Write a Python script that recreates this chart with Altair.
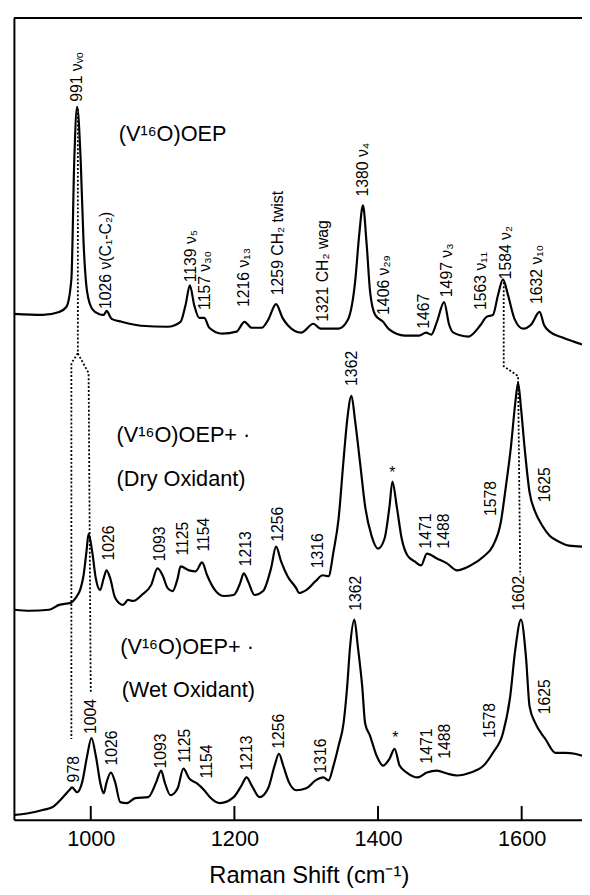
import altair as alt
import pandas as pd

# ---- spectra: wavenumber (cm-1) and relative intensity (stacked offsets) ----
top_x = [893, 933, 956, 966, 973, 977, 981, 986, 990, 995, 1002, 1011, 1018, 1022, 1029, 1043, 1070, 1107, 1125, 1132,
         1138, 1144, 1151, 1158, 1165, 1183, 1203, 1214, 1224, 1238, 1247, 1258, 1267, 1275, 1293, 1310, 1320, 1345, 1358, 1368,
         1374, 1379, 1384, 1389, 1396, 1407, 1416, 1437, 1457, 1467, 1474, 1482, 1492, 1499, 1505, 1526, 1543, 1551, 1560, 1567,
         1574, 1581, 1590, 1602, 1613, 1625, 1631, 1639, 1657, 1684]
top_y = [513, 512, 515, 520, 548, 668, 723, 668, 585, 535, 518, 513, 512, 516, 508, 505, 501, 500, 505, 522,
         542, 522, 509, 509, 499, 493, 495, 505, 499, 499, 507, 523, 509, 501, 494, 503, 498, 498, 507, 545,
         595, 623, 585, 535, 512, 505, 497, 491, 491, 494, 492, 505, 525, 502, 494, 490, 502, 510, 512, 532,
         548, 532, 508, 498, 502, 515, 502, 495, 489, 482]

dry_x = [894, 915, 942, 956, 972, 979, 986, 990, 994, 997, 1002, 1007, 1013, 1018, 1022, 1027, 1034, 1045, 1052, 1059,
         1071, 1084, 1093, 1100, 1107, 1114, 1121, 1125, 1137, 1146, 1155, 1162, 1171, 1185, 1199, 1208, 1213, 1219, 1228, 1240,
         1251, 1258, 1265, 1274, 1286, 1290, 1300, 1313, 1323, 1331, 1338, 1345, 1352, 1357, 1363, 1368, 1375, 1382, 1391, 1400,
         1409, 1416, 1420, 1426, 1433, 1441, 1451, 1460, 1468, 1482, 1496, 1510, 1529, 1547, 1560, 1571, 1578, 1585, 1591, 1595,
         1599, 1604, 1611, 1619, 1629, 1639, 1652, 1666, 1684]
dry_y = [213, 212, 213, 218, 220, 225, 235, 248, 272, 290, 272, 245, 233, 245, 253, 245, 225, 218, 223, 222,
         228, 238, 255, 248, 235, 232, 245, 257, 253, 252, 261, 248, 235, 227, 228, 240, 250, 242, 228, 232,
         255, 277, 262, 247, 235, 230, 233, 242, 248, 247, 272, 305, 365, 405, 430, 405, 362, 318, 288, 275,
         285, 318, 343, 318, 285, 268, 262, 258, 270, 265, 260, 253, 258, 267, 278, 302, 338, 378, 422, 443,
         418, 378, 332, 312, 298, 288, 282, 278, 277]

wet_x = [894, 915, 933, 947, 960, 970, 974, 981, 988, 995, 1001, 1007, 1014, 1018, 1022, 1028, 1034, 1041, 1050, 1062,
         1080, 1091, 1098, 1103, 1111, 1121, 1129, 1137, 1148, 1158, 1166, 1180, 1199, 1210, 1217, 1224, 1235, 1247, 1256, 1262,
         1268, 1276, 1286, 1300, 1313, 1324, 1331, 1338, 1345, 1352, 1357, 1361, 1367, 1372, 1378, 1382, 1389, 1398, 1407, 1416,
         1423, 1430, 1440, 1455, 1468, 1482, 1496, 1510, 1529, 1547, 1560, 1574, 1584, 1591, 1599, 1606, 1611, 1619, 1633, 1647,
         1661, 1674, 1684]
wet_y = [5, 7, 10, 13, 22, 30, 33, 28, 38, 65, 83, 65, 35, 27, 38, 48, 38, 18, 17, 22,
         23, 38, 50, 38, 25, 32, 52, 42, 37, 30, 23, 17, 23, 35, 43, 35, 23, 32, 55, 67,
         55, 38, 30, 32, 40, 43, 40, 55, 75, 98, 135, 175, 203, 175, 135, 98, 85, 65, 55, 62,
         72, 55, 48, 43, 48, 50, 47, 45, 48, 55, 68, 88, 125, 172, 203, 165, 115, 98, 82, 68,
         68, 67, 65]

# ---- dotted correlation lines ----
dot_a_x = [982, 982, 973, 973]
dot_a_y = [721, 473, 463, 82]
dot_b_x = [982, 997, 1000]
dot_b_y = [473, 453, 128]
dot_c_x = [1575, 1575, 1595, 1598]
dot_c_y = [545, 460, 450, 248]

# ---- peak annotations (text, wavenumber position, intensity anchor) ----
top_labels = ["991 νᵥₒ", "1026 ν(C₁-C₂)", "1139 ν₅", "1157 ν₃₀", "1216 ν₁₃", "1259 CH₂ twist", "1321 CH₂ wag",
              "1380 ν₄", "1406 ν₂₉", "1467", "1497 ν₃", "1563 ν₁₁", "1584 ν₂", "1632 ν₁₀"]
top_label_x = [981, 1021, 1139, 1159, 1214, 1261, 1323, 1379, 1409, 1464, 1496, 1544, 1578, 1622]
top_label_y = [728, 518, 545, 517, 520, 532, 505, 632, 512, 498, 530, 517, 548, 523]

dry_labels = ["1026", "1093", "1125", "1154", "1213", "1256", "1316", "1362", "1471", "1488", "1578", "1625"]
dry_label_x = [1025, 1096, 1128, 1158, 1216, 1261, 1317, 1364, 1467, 1492, 1558, 1632]
dry_label_y = [263, 262, 268, 272, 257, 282, 255, 440, 275, 275, 308, 322]

wet_labels = ["978", "1004", "1026", "1093", "1125", "1154", "1213", "1256", "1316", "1362", "1471", "1488",
              "1578", "1602", "1625"]
wet_label_x = [977, 1000, 1029, 1098, 1131, 1162, 1217, 1262, 1320, 1370, 1468, 1494, 1556, 1597, 1632]
wet_label_y = [38, 87, 55, 52, 58, 42, 50, 72, 47, 212, 57, 62, 83, 212, 107]

star_x = [1420, 1424]
star_y = [352, 83]

names = ["(V¹⁶O)OEP", "(V¹⁶O)OEP+ ·", "(Dry Oxidant)", "(V¹⁶O)OEP+ ·", "(Wet Oxidant)"]
name_x = [1039, 1036, 1036, 1041, 1043]
name_y = [695, 390, 346, 175, 132]

ticks = [1000, 1200, 1400, 1600]

# ---- tables ----
spec_rows = []
for name, xs, ys in [("top", top_x, top_y), ("dry", dry_x, dry_y), ("wet", wet_x, wet_y)]:
    for i, (a, b) in enumerate(zip(xs, ys)):
        spec_rows.append({"x": a, "y": b, "s": name, "o": i})
spec = pd.DataFrame(spec_rows)

dot_rows = []
for name, xs, ys in [("a", dot_a_x, dot_a_y), ("b", dot_b_x, dot_b_y), ("c", dot_c_x, dot_c_y)]:
    for i, (a, b) in enumerate(zip(xs, ys)):
        dot_rows.append({"x": a, "y": b, "s": name, "o": i})
dots = pd.DataFrame(dot_rows)

labels = pd.DataFrame({
    "t": top_labels + dry_labels + wet_labels,
    "x": top_label_x + dry_label_x + wet_label_x,
    "y": top_label_y + dry_label_y + wet_label_y,
})
stars = pd.DataFrame({"x": star_x, "y": star_y, "t": ["*", "*"]})
name_df = pd.DataFrame({"t": names, "x": name_x, "y": name_y})
tick_df = pd.DataFrame({"x": ticks})

FONT = "Liberation Sans"
W, H = 576, 813

x_enc = alt.X(
    "x:Q",
    scale=alt.Scale(domain=[893, 1684], nice=False, zero=False),
    axis=alt.Axis(
        values=ticks, format="d", grid=False, ticks=True, tickSize=0,
        labelFontSize=22, labelFont=FONT, labelColor="black", labelPadding=9,
        domainColor="black", domainWidth=2,
        titleFont=FONT, titleFontSize=24, titleFontWeight="normal", titleColor="black",
        titleX=299, titleY=64, titleBaseline="alphabetic", titleAlign="center",
    ),
    title="Raman Shift (cm⁻¹)",
)
y_enc = alt.Y(
    "y:Q",
    scale=alt.Scale(domain=[0, H], nice=False, zero=False),
    axis=alt.Axis(labels=False, ticks=False, grid=False, domainColor="black", domainWidth=2),
    title=None,
)

spectra = alt.Chart(spec).mark_line(color="black", strokeWidth=2.2, interpolate="monotone").encode(
    x=x_enc, y=y_enc, detail="s:N", order="o:Q"
)
dotted = alt.Chart(dots).mark_line(color="black", strokeWidth=1.8, strokeDash=[2, 2]).encode(
    x=x_enc, y=y_enc, detail="s:N", order="o:Q"
)
top_frame = alt.Chart(pd.DataFrame({"k": [0]})).mark_rule(color="black", strokeWidth=2).encode(
    x=alt.value(0), x2=alt.value(W), y=alt.value(0)
)
tick_marks = alt.Chart(tick_df).mark_rule(color="black", strokeWidth=2).encode(
    x=x_enc, y=alt.value(H), y2=alt.value(H - 14)
)
peak_text = alt.Chart(labels).mark_text(
    angle=270, align="left", baseline="middle", fontSize=16, font=FONT, color="black"
).encode(x=x_enc, y=y_enc, text="t:N")
star_text = alt.Chart(stars).mark_text(
    align="center", baseline="middle", fontSize=16, font=FONT, color="black"
).encode(x=x_enc, y=y_enc, text="t:N")
name_text = alt.Chart(name_df).mark_text(
    align="left", baseline="middle", fontSize=22, font=FONT, color="black"
).encode(x=x_enc, y=y_enc, text="t:N")

chart = alt.layer(
    spectra, dotted, top_frame, tick_marks, peak_text, star_text, name_text
).properties(
    width=W, height=H,
    padding={"left": 6, "top": 4, "right": 0, "bottom": 69},
    autosize=alt.AutoSizeParams(type="none"),
).configure_view(stroke="transparent")

chart.save("out.html", embed_options={"renderer": "svg", "actions": False})
